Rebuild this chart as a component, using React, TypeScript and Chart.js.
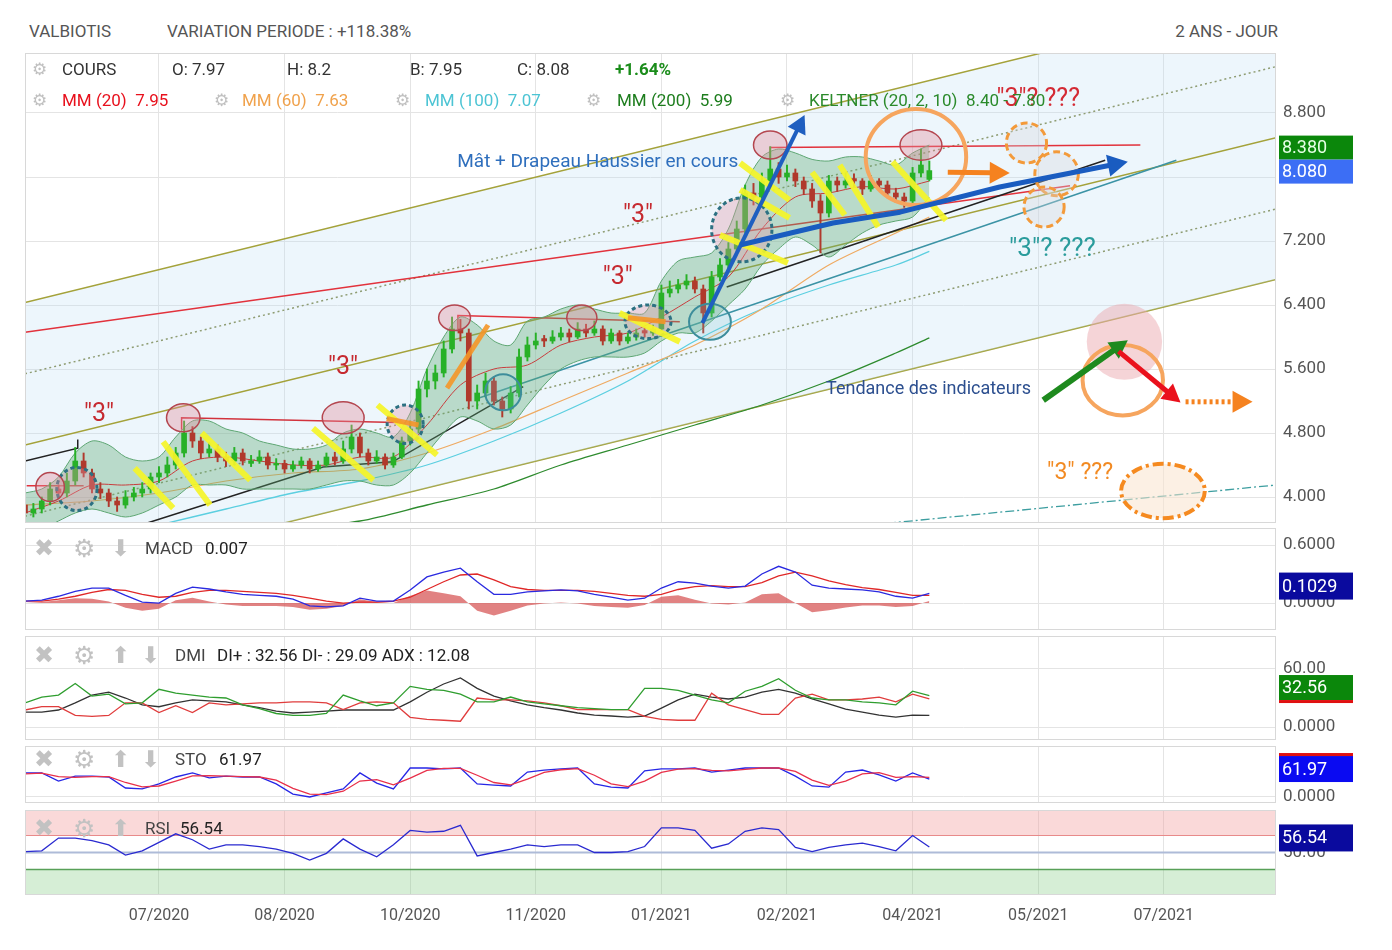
import React, { useEffect, useRef } from 'react';
import { Chart, registerables } from 'chart.js';

Chart.register(...registerables);

// ---------- axes ----------
const X_MAX = 149.4;
const X_TICKS = [16, 31, 46, 61, 76, 91, 106, 121, 136];
const X_LABELS = ['07/2020', '08/2020', '10/2020', '11/2020', '01/2021', '02/2021', '04/2021', '05/2021', '07/2021'];
const PRICE_TICKS = [4.0, 4.8, 5.6, 6.4, 7.2, 8.0, 8.8];
const MACD_TICKS = [0, 0.6];
const DMI_TICKS = [0, 60];
const STO_TICKS = [0];
const RSI_TICKS = [50];
const RSI_LEVELS = [70, 50, 30];

// ---------- candles (one per 2 sessions) ----------
const OPEN = [
  3.90, 3.80, 3.85, 3.95, 4.10, 4.05, 4.20, 4.45, 4.30, 4.10,
  4.05, 3.95, 3.90, 4.00, 4.05, 4.10, 4.25, 4.30, 4.40, 4.55,
  4.80, 4.70, 4.55, 4.60, 4.50, 4.45, 4.55, 4.42, 4.45, 4.50,
  4.40, 4.42, 4.35, 4.40, 4.45, 4.35, 4.40, 4.50, 4.45, 4.60,
  4.75, 4.55, 4.45, 4.50, 4.40, 4.50, 4.70, 4.85, 5.35, 5.45,
  5.55, 5.85, 6.10, 6.05, 5.20, 5.30, 5.45, 5.20, 5.10, 5.30,
  5.75, 5.90, 5.98, 5.95, 6.00, 6.05, 6.00, 6.10, 6.05, 6.10,
  5.95, 6.05, 5.95, 6.00, 6.08, 6.05, 6.10, 6.55, 6.60, 6.65,
  6.70, 6.60, 6.30, 6.75, 6.90, 7.10, 7.35, 7.80, 7.75, 7.95,
  8.10, 8.00, 8.05, 7.95, 7.85, 7.70, 7.55, 7.95, 7.90, 7.98,
  7.95, 7.85, 7.95, 7.90, 7.80, 7.75, 7.70, 8.05, 7.97,
];
const HIGH = [
  3.95, 3.92, 4.00, 4.18, 4.15, 4.30, 4.62, 4.55, 4.35, 4.18,
  4.10, 4.00, 4.08, 4.12, 4.18, 4.30, 4.38, 4.50, 4.62, 4.95,
  4.88, 4.75, 4.68, 4.65, 4.56, 4.62, 4.60, 4.52, 4.58, 4.55,
  4.48, 4.46, 4.45, 4.50, 4.48, 4.45, 4.55, 4.56, 4.70, 4.90,
  4.80, 4.60, 4.58, 4.54, 4.55, 4.75, 4.95, 5.45, 5.60, 5.65,
  5.95, 6.25, 6.22, 6.10, 5.40, 5.55, 5.50, 5.25, 5.38, 5.85,
  6.00, 6.05, 6.02, 6.08, 6.12, 6.10, 6.18, 6.16, 6.20, 6.14,
  6.10, 6.08, 6.05, 6.10, 6.12, 6.15, 6.65, 6.70, 6.72, 6.78,
  6.75, 6.65, 6.82, 6.98, 7.18, 7.45, 7.90, 7.92, 8.05, 8.38,
  8.18, 8.15, 8.10, 8.00, 7.92, 7.78, 8.02, 8.00, 8.05, 8.04,
  7.98, 8.02, 7.98, 7.95, 7.86, 7.80, 8.12, 8.35, 8.20,
];
const LOW = [
  3.72, 3.75, 3.80, 3.90, 3.98, 4.00, 4.15, 4.25, 4.05, 3.98,
  3.88, 3.82, 3.86, 3.95, 4.00, 4.05, 4.18, 4.25, 4.35, 4.50,
  4.62, 4.48, 4.50, 4.44, 4.38, 4.40, 4.40, 4.38, 4.42, 4.35,
  4.34, 4.30, 4.32, 4.36, 4.30, 4.32, 4.38, 4.40, 4.42, 4.55,
  4.50, 4.40, 4.42, 4.35, 4.37, 4.48, 4.65, 4.80, 5.25, 5.35,
  5.50, 5.80, 5.95, 5.10, 5.10, 5.25, 5.15, 5.00, 5.05, 5.25,
  5.70, 5.85, 5.88, 5.92, 5.96, 5.94, 5.98, 6.00, 6.02, 5.90,
  5.92, 5.90, 5.92, 5.96, 6.00, 6.02, 6.08, 6.50, 6.55, 6.60,
  6.55, 6.05, 6.25, 6.70, 6.85, 7.05, 7.30, 7.65, 7.70, 7.90,
  7.92, 7.95, 7.88, 7.78, 7.62, 7.05, 7.50, 7.82, 7.86, 7.88,
  7.78, 7.82, 7.84, 7.74, 7.68, 7.62, 7.66, 8.00, 7.95,
];
const CLOSE = [
  3.80, 3.85, 3.95, 4.10, 4.05, 4.20, 4.45, 4.30, 4.10, 4.05,
  3.95, 3.90, 4.00, 4.05, 4.10, 4.25, 4.30, 4.40, 4.55, 4.80,
  4.70, 4.55, 4.60, 4.50, 4.45, 4.55, 4.45, 4.45, 4.50, 4.40,
  4.42, 4.35, 4.40, 4.45, 4.35, 4.40, 4.50, 4.45, 4.60, 4.75,
  4.55, 4.45, 4.50, 4.40, 4.50, 4.70, 4.85, 5.35, 5.45, 5.55,
  5.85, 6.10, 6.05, 5.20, 5.30, 5.45, 5.20, 5.10, 5.30, 5.75,
  5.90, 5.95, 5.95, 6.00, 6.05, 6.00, 6.10, 6.05, 6.10, 5.95,
  6.05, 5.95, 6.00, 6.05, 6.05, 6.10, 6.55, 6.60, 6.65, 6.70,
  6.60, 6.30, 6.75, 6.90, 7.10, 7.35, 7.80, 7.75, 7.95, 8.10,
  8.00, 8.05, 7.95, 7.85, 7.70, 7.55, 7.95, 7.90, 7.95, 7.95,
  7.85, 7.95, 7.90, 7.80, 7.75, 7.70, 8.05, 8.15, 8.08,
];

// ---------- Keltner (every 2 candles) ----------
const KELT_UP = [
  4.05, 4.10, 4.25, 4.55, 4.70, 4.65, 4.50, 4.45, 4.50, 4.75,
  4.95, 4.95, 4.85, 4.80, 4.70, 4.65, 4.60, 4.60, 4.65, 4.80,
  4.85, 4.80, 4.75, 5.05, 5.60, 6.00, 6.25, 6.15, 5.95, 5.90,
  6.20, 6.25, 6.35, 6.40, 6.35, 6.30, 6.30, 6.30, 6.70, 6.95,
  7.00, 7.05, 7.35, 7.90, 8.25, 8.35, 8.30, 8.22, 8.20, 8.25,
  8.25, 8.20, 8.15, 8.30, 8.40,
];
const KELT_LOW = [
  3.55, 3.60, 3.70, 3.80, 3.85, 3.80, 3.75, 3.80, 3.90, 4.00,
  4.15, 4.15, 4.15, 4.10, 4.10, 4.10, 4.10, 4.10, 4.15, 4.20,
  4.20, 4.15, 4.15, 4.30, 4.55, 4.80, 5.00, 4.95, 4.85, 4.90,
  5.15, 5.40, 5.60, 5.70, 5.75, 5.75, 5.75, 5.80, 5.95, 6.05,
  6.05, 6.20, 6.40, 6.60, 6.90, 7.10, 7.25, 7.15, 7.00, 7.15,
  7.30, 7.40, 7.45, 7.50, 7.75,
];

// ---------- moving averages ----------
const MM20 = [
  3.80, 3.95, 4.15, 4.15, 4.20, 4.45, 4.50, 4.45, 4.40, 4.40,
  4.50, 4.50, 4.90, 5.40, 5.60, 5.65, 5.90, 6.00, 6.05, 6.25,
  6.50, 6.75, 7.35, 7.75, 7.80, 7.88, 7.85, 7.95,
];
const MM_X = [0, 8, 16, 24, 32, 40, 48, 56, 64, 72, 80, 88, 96, 104, 108];
const MM60 = [3.90, 3.95, 4.05, 4.20, 4.30, 4.35, 4.55, 4.85, 5.20, 5.55, 5.90, 6.35, 6.90, 7.30, 7.50];
const MM100 = [null, null, 3.65, 3.85, 4.05, 4.20, 4.40, 4.70, 5.05, 5.45, 5.95, 6.35, 6.65, 6.90, 7.07];
const MM200 = [null, null, null, null, 3.60, 3.70, 3.90, 4.10, 4.40, 4.65, 4.90, 5.15, 5.45, 5.80, 5.99];

// ---------- regression channel & drawn trend lines (session index, price) ----------
const CH_X = [0, 149.4];
const CH_TOP = [6.43, 10.27];
const CH_UPPER_DOT = [5.54, 9.38];
const CH_MID = [4.65, 8.49];
const CH_LOWER_DOT = [3.76, 7.60];
const CH_BOTTOM = [2.88, 6.72];
const DASHDOT_LINE = [[100.9, 3.65], [149.4, 4.15]];
const TEAL_LINE = [[54.3, 5.24], [137.5, 8.21]];
const RED_LONG = [[0, 6.06], [124.8, 7.89]];
const RED_TOP = [[89, 8.22], [89, 8.37], [133.2, 8.40]];
const RED_MID = [[51.7, 6.10], [51.7, 6.27], [78.2, 6.19]];
const RED_LEFT3 = [[18.7, 4.84], [18.7, 4.99], [44.5, 4.93]];
const RED_LEFT = [[0.2, 4.14], [7.0, 4.14]];
const BLACK_1 = [[0, 4.45], [6.3, 4.61], [6.3, 4.72]];
const BLACK_2 = [[14.6, 3.675], [35.6, 4.375], [43.9, 4.44], [59.5, 5.38]];
const BLACK_3 = [[83.8, 6.625], [129, 8.21]];

// ---------- indicators (every 4 sessions) ----------
const MACD = [
  0.02, 0.03, 0.07, 0.12, 0.155, 0.155, 0.08, 0.01, 0.0, 0.10,
  0.165, 0.145, 0.115, 0.09, 0.08, 0.07, 0.04, -0.03, -0.04, -0.03,
  0.05, 0.02, 0.02, 0.135, 0.27, 0.32, 0.36, 0.22, 0.09, 0.09,
  0.115, 0.125, 0.135, 0.125, 0.09, 0.06, 0.03, 0.05, 0.155, 0.22,
  0.205, 0.175, 0.155, 0.175, 0.30, 0.38, 0.32, 0.185, 0.155, 0.145,
  0.135, 0.115, 0.07, 0.05, 0.10,
];
const MACD_SIGNAL = [
  0.02, 0.02, 0.04, 0.07, 0.11, 0.14, 0.13, 0.09, 0.06, 0.07,
  0.11, 0.13, 0.13, 0.12, 0.11, 0.10, 0.08, 0.05, 0.02, 0.0,
  0.01, 0.01, 0.02, 0.06, 0.14, 0.22, 0.29, 0.30, 0.24, 0.17,
  0.14, 0.13, 0.13, 0.13, 0.12, 0.10, 0.08, 0.07, 0.09, 0.14,
  0.17, 0.18, 0.17, 0.17, 0.21, 0.28, 0.32, 0.28, 0.23, 0.19,
  0.16, 0.14, 0.11, 0.08, 0.08,
];
const MACD_HIST = [
  0.0, 0.01, 0.03, 0.05, 0.045, 0.015, -0.05, -0.08, -0.06, 0.03,
  0.055, 0.015, -0.015, -0.03, -0.03, -0.03, -0.04, -0.07, -0.06, -0.03,
  0.04, 0.01, 0.0, 0.075, 0.13, 0.10, 0.07, -0.08, -0.13, -0.08,
  -0.025, -0.005, 0.005, -0.005, -0.03, -0.04, -0.05, -0.02, 0.065, 0.08,
  0.035, -0.005, -0.015, 0.005, 0.09, 0.10, 0.0, -0.095, -0.075, -0.045,
  -0.025, -0.025, -0.04, -0.03, 0.02,
];
const DI_PLUS = [
  25, 31, 33, 45, 32, 34, 24, 25, 39, 35,
  33, 31, 30, 23, 19, 14, 12, 12, 14, 33,
  27, 22, 25, 42, 39, 38, 34, 26, 26, 31,
  26, 24, 22, 20, 19, 18, 18, 40, 40, 38,
  33, 28, 25, 37, 42, 50, 38, 30, 28, 28,
  26, 25, 23, 37, 32.56,
];
const DI_MINUS = [
  17.6, 21, 21, 12, 11, 12, 25, 25, 15, 22,
  15, 25, 23, 24, 25, 25, 26, 26, 25, 18,
  25, 26, 25, 10, 8, 7, 6, 30, 28, 28,
  27, 25, 22, 18, 18, 18, 18, 11, 8, 7,
  7, 35, 23, 18, 13, 13, 30, 34, 28, 28,
  29, 31, 26, 34, 29.09,
];
const ADX = [
  15.5, 15.5, 17.6, 25, 33, 36, 30, 23, 21, 25,
  28, 27, 26, 23, 20, 16.5, 14.5, 15.5, 16.5, 17.6,
  17.6, 17.6, 17.6, 26, 36, 44.5, 50.7, 40, 32, 27,
  23, 20, 17.6, 14.5, 12.4, 11.4, 10.3, 11.4, 19.6, 28,
  34, 31, 29, 31, 36, 39, 35, 29, 24, 18.6,
  15.5, 12.4, 10.3, 12.4, 12.08,
];
const STO_K = [
  83, 83, 55, 72, 72, 69, 31, 28, 45, 69,
  83, 66, 72, 69, 69, 45, 10, 0, 14, 28,
  83, 48, 28, 100, 100, 97, 100, 45, 41, 38,
  86, 93, 97, 100, 45, 34, 31, 90, 97, 97,
  100, 86, 93, 100, 100, 100, 72, 38, 34, 86,
  93, 76, 55, 83, 61.97,
];
const STO_D = [
  80, 82, 70, 68, 70, 70, 50, 35, 38, 55,
  73, 74, 72, 70, 69, 58, 30, 10, 8, 20,
  55, 60, 42, 65, 92, 99, 99, 75, 50, 42,
  62, 85, 94, 98, 75, 45, 36, 55, 85, 96,
  98, 92, 90, 95, 100, 100, 88, 58, 40, 55,
  80, 84, 68, 70, 68,
];
const RSI = [
  51, 52, 67, 67, 64, 59, 47, 52, 62, 72,
  65, 54, 59, 59, 57, 54, 49, 41, 49, 66,
  54, 45, 59, 76, 74, 75, 82, 46, 50, 54,
  59, 57, 59, 59, 50, 50, 51, 57, 79, 79,
  76, 55, 60, 75, 79, 77, 56, 51, 56, 59,
  61, 57, 52, 70, 56.54,
];

// ---------- hand-drawn annotations (session index, price) ----------
const YELLOW_STROKES = [
  [13.1, 4.36, 17.7, 3.86], [16.5, 4.69, 22.1, 3.90], [21.1, 4.80, 26.9, 4.21],
  [34.4, 4.86, 41.6, 4.21], [42.1, 5.15, 49.2, 4.525], [71.0, 6.30, 78.2, 5.94],
  [85.4, 8.175, 91.3, 7.71], [85.4, 7.84, 91.3, 7.49], [83.0, 7.275, 91.1, 6.925],
  [94.0, 8.06, 97.9, 7.525], [97.3, 8.15, 101.9, 7.375], [103.6, 8.19, 110.0, 7.46],
];
const ORANGE_STROKES = [[50.4, 5.36, 55.3, 6.15], [43.2, 4.98, 47.0, 4.90], [72.0, 6.24, 76.5, 6.19]];
const PINK_ELLIPSES = [
  [3.0, 4.125, 1.7, 0.18], [18.9, 4.99, 2.0, 0.175], [38.0, 4.99, 2.5, 0.2],
  [51.3, 6.24, 1.9, 0.16], [66.5, 6.24, 1.8, 0.16], [89.0, 8.40, 2.0, 0.175], [107.0, 8.40, 2.5, 0.19],
];
const TEAL_DASHED = [[6.2, 4.10, 2.4, 0.27], [45.4, 4.91, 2.15, 0.24], [74.4, 6.19, 2.75, 0.21], [85.6, 7.34, 3.6, 0.4]];
const TEAL_SOLID = [[57.1, 5.31, 2.15, 0.225], [81.8, 6.19, 2.5, 0.225]];
const ORANGE_DASHED = [[119.6, 8.425, 2.4, 0.25], [123.2, 8.04, 2.6, 0.275], [121.7, 7.625, 2.4, 0.25]];
const ORANGE_RINGS = [[106.4, 8.25, 6.0, 0.6], [131.1, 5.46, 4.8, 0.44]];
const PINK_BLOB = [131.3, 5.94, 4.5, 0.475];
const BOTTOM_ELLIPSE = [135.9, 4.075, 5.0, 0.34];
const BLUE_ARROW = [[80.9, 6.175], [93.1, 8.775]];
const BLUE_PATH = [[85.4, 7.15], [96.5, 7.425], [104.5, 7.56], [116.4, 7.875], [131.7, 8.19]];
const ORANGE_ARROW = [[110.2, 8.06], [117.6, 8.05]];
const GREEN_ARROW = [[121.6, 5.21], [131.7, 5.96]];
const RED_ARROW = [[130.6, 5.82], [138.0, 5.18]];
const ORANGE_DOTTED_ARROW = [[138.6, 5.19], [146.6, 5.19]];
const NOTES = [
  { s: 8.84, v: 5.025, text: '"3"', color: '#c62a30', size: 25 },
  { s: 37.97, v: 5.61, text: '"3"', color: '#c62a30', size: 25 },
  { s: 70.8, v: 6.74, text: '"3"', color: '#c62a30', size: 25 },
  { s: 73.2, v: 7.51, text: '"3"', color: '#c62a30', size: 25 },
  { s: 68.4, v: 8.19, text: 'Mât + Drapeau Haussier en cours', color: '#2f6fbd', size: 19 },
  { s: 122.7, v: 7.09, text: '"3"? ???', color: '#2a9c9c', size: 26 },
  { s: 107.9, v: 5.34, text: 'Tendance des indicateurs', color: '#2c4f8f', size: 18 },
  { s: 126.0, v: 4.30, text: '"3" ???', color: '#f28a22', size: 23 },
  { s: 121.0, v: 8.96, text: '"3"? ???', color: '#d42a34', size: 25 },
];

// ---------- helpers ----------
const FONT = 'Roboto, "Liberation Sans", Arial, sans-serif';
const OLIVE = '#a4a23a';
const pts = (xs: number[], ys: any[]) => xs.map((x, i) => ({ x, y: ys[i] }));
const pairs = (arr: number[][]) => arr.map(([x, y]) => ({ x, y }));
const step2 = (ys: number[]) => ys.map((y, i) => ({ x: i * 2, y }));
const step4 = (ys: number[]) => ys.map((y, i) => ({ x: i * 4, y }));
const line = (data: any[], color: string, width: number, extra: any = {}) => ({
  type: 'line', data, borderColor: color, borderWidth: width, pointRadius: 0, fill: false, tension: 0, ...extra,
});

function baseOptions(yMin: number, yMax: number, yTicks: number[], fmt: (v: number) => string, showX: boolean) {
  return {
    animation: false,
    responsive: true,
    maintainAspectRatio: false,
    events: [],
    layout: { padding: { left: 25, right: 0, top: 0, bottom: 0 } },
    plugins: { legend: { display: false }, tooltip: { enabled: false } },
    scales: {
      x: {
        type: 'linear', min: 0, max: X_MAX, offset: false,
        afterBuildTicks: (s: any) => { s.ticks = X_TICKS.map((v) => ({ value: v })); },
        afterFit: (s: any) => {
          s.height = showX ? 40 : 0;
          s.paddingLeft = 0; s.paddingRight = 0; s.paddingTop = 0; s.paddingBottom = 0;
        },
        grid: { color: '#e4e4e4', drawTicks: false, offset: false },
        border: { display: false },
        ticks: {
          display: showX, autoSkip: false, maxRotation: 0, padding: 11, color: '#555',
          font: { family: FONT, size: 16 },
          callback: (_v: any, i: number) => X_LABELS[i],
        },
      },
      y: {
        position: 'right', min: yMin, max: yMax,
        afterBuildTicks: (s: any) => { s.ticks = yTicks.map((v) => ({ value: v })); },
        afterFit: (s: any) => {
          s.width = 116;
          s.paddingTop = 0; s.paddingBottom = 0; s.paddingLeft = 0; s.paddingRight = 0;
        },
        grid: { color: '#e4e4e4', drawTicks: false },
        border: { display: false },
        ticks: { padding: 7, color: '#555', font: { family: FONT, size: 17 }, callback: (v: any) => fmt(Number(v)) },
      },
    },
  };
}

const borderPlugin = {
  id: 'panelBorder',
  afterDraw(chart: any) {
    const { ctx, chartArea: a } = chart;
    ctx.save();
    ctx.strokeStyle = '#d8d8d8';
    ctx.lineWidth = 1;
    ctx.strokeRect(a.left + 0.5, a.top + 0.5, a.width - 1, a.height - 1);
    ctx.restore();
  },
};

function badgePlugin(items: any[]) {
  return {
    id: 'badges',
    afterDraw(chart: any) {
      const { ctx, chartArea, scales } = chart;
      ctx.save();
      items.forEach((b) => {
        const cy = scales.y.getPixelForValue(b.value) + b.dy;
        const x0 = chartArea.right + 3;
        const w = 74;
        ctx.fillStyle = b.bg;
        ctx.fillRect(x0, cy - b.h / 2, w, b.h);
        if (b.top) { ctx.fillStyle = b.top; ctx.fillRect(x0, cy - b.h / 2 - 3, w, 3); }
        if (b.bottom) { ctx.fillStyle = b.bottom; ctx.fillRect(x0, cy + b.h / 2, w, 3); }
        ctx.fillStyle = b.fg;
        ctx.font = `18px ${FONT}`;
        ctx.textAlign = 'left';
        ctx.textBaseline = 'middle';
        ctx.fillText(b.text, x0 + 3, cy + 1);
      });
      ctx.restore();
    },
  };
}

const annotationPlugin = {
  id: 'annotations',
  afterDatasetsDraw(chart: any) {
    const { ctx, chartArea: a, scales } = chart;
    const X = (s: number) => scales.x.getPixelForValue(s);
    const Y = (v: number) => scales.y.getPixelForValue(v);
    const RX = (s: number, r: number) => Math.abs(X(s + r) - X(s));
    const RY = (v: number, r: number) => Math.abs(Y(v + r) - Y(v));
    ctx.save();
    ctx.beginPath();
    ctx.rect(a.left, a.top, a.width, a.height);
    ctx.clip();
    ctx.lineCap = 'butt';

    const ellipse = (e: number[], fill: string | null, stroke: string | null, width: number, dash: number[] = []) => {
      ctx.beginPath();
      ctx.ellipse(X(e[0]), Y(e[1]), RX(e[0], e[2]), RY(e[1], e[3]), 0, 0, Math.PI * 2);
      if (fill) { ctx.fillStyle = fill; ctx.fill(); }
      if (stroke) { ctx.setLineDash(dash); ctx.strokeStyle = stroke; ctx.lineWidth = width; ctx.stroke(); ctx.setLineDash([]); }
    };
    const seg = (s: number[], color: string, width: number) => {
      ctx.beginPath();
      ctx.moveTo(X(s[0]), Y(s[1]));
      ctx.lineTo(X(s[2]), Y(s[3]));
      ctx.strokeStyle = color; ctx.lineWidth = width; ctx.stroke();
    };
    const arrow = (path: number[][], color: string, width: number, head: number, dash: number[] = []) => {
      const P = path.map(([s, v]) => [X(s), Y(v)]);
      const [tx, ty] = P[P.length - 1];
      const [px, py] = P[P.length - 2];
      const ang = Math.atan2(ty - py, tx - px);
      const bx = tx - Math.cos(ang) * head * 0.9;
      const by = ty - Math.sin(ang) * head * 0.9;
      ctx.beginPath();
      ctx.moveTo(P[0][0], P[0][1]);
      for (let i = 1; i < P.length - 1; i++) ctx.lineTo(P[i][0], P[i][1]);
      ctx.lineTo(bx, by);
      ctx.setLineDash(dash);
      ctx.strokeStyle = color; ctx.lineWidth = width; ctx.lineJoin = 'round'; ctx.stroke();
      ctx.setLineDash([]);
      ctx.beginPath();
      ctx.moveTo(tx, ty);
      ctx.lineTo(tx - Math.cos(ang) * head + Math.sin(ang) * head * 0.55, ty - Math.sin(ang) * head - Math.cos(ang) * head * 0.55);
      ctx.lineTo(tx - Math.cos(ang) * head - Math.sin(ang) * head * 0.55, ty - Math.sin(ang) * head + Math.cos(ang) * head * 0.55);
      ctx.closePath();
      ctx.fillStyle = color; ctx.fill();
    };

    ellipse(BOTTOM_ELLIPSE, 'rgba(250,228,205,0.55)', '#f58a20', 4, [11, 4, 3, 4]);
    ellipse(PINK_BLOB, 'rgba(236,170,176,0.5)', null, 0);
    ORANGE_DASHED.forEach((e) => ellipse(e, 'rgba(215,215,222,0.35)', '#f39a3a', 3, [7, 4]));
    TEAL_SOLID.forEach((e) => ellipse(e, 'rgba(120,190,200,0.22)', '#3d8d9b', 2));
    TEAL_DASHED.forEach((e) => ellipse(e, 'rgba(226,150,165,0.35)', '#2c7182', 3, [4, 3]));
    PINK_ELLIPSES.forEach((e) => ellipse(e, 'rgba(226,140,155,0.38)', '#b4464f', 1.5));

    YELLOW_STROKES.forEach((s) => seg(s, 'rgba(245,245,40,0.92)', 6));
    ORANGE_STROKES.forEach((s) => seg(s, 'rgba(245,150,40,0.9)', 5));

    ORANGE_RINGS.forEach((e) => ellipse(e, null, '#f6a55e', 4));

    arrow(BLUE_ARROW, '#1f5fc0', 4, 18);
    arrow(BLUE_PATH, '#1a5cc0', 5, 20);
    arrow(ORANGE_ARROW, '#f5821f', 5, 20);
    arrow(GREEN_ARROW, '#1e8a1e', 6, 18);
    arrow(RED_ARROW, '#ea111c', 5, 18);
    arrow(ORANGE_DOTTED_ARROW, '#f5821f', 5, 20, [3, 3]);

    ctx.textAlign = 'center';
    ctx.textBaseline = 'middle';
    NOTES.forEach((n) => {
      ctx.font = `${n.size}px ${FONT}`;
      ctx.fillStyle = n.color;
      ctx.fillText(n.text, X(n.s), Y(n.v));
    });
    ctx.restore();
  },
};

function mainConfig() {
  const bull = '#27b127';
  const bear = '#b0392c';
  const colors = CLOSE.map((c, i) => (c >= OPEN[i] ? bull : bear));
  const datasets: any[] = [
    line(pts(CH_X, CH_BOTTOM), OLIVE, 1.5),
    line(pts(CH_X, CH_TOP), OLIVE, 1.5, { fill: 0, backgroundColor: 'rgba(190,220,245,0.27)' }),
    line(pts(CH_X, CH_UPPER_DOT), '#8e9c72', 1.5, { borderDash: [2, 3] }),
    line(pts(CH_X, CH_MID), OLIVE, 1.5),
    line(pts(CH_X, CH_LOWER_DOT), '#8e9c72', 1.5, { borderDash: [2, 3] }),
    line(pairs(DASHDOT_LINE), '#3d9ea0', 1.3, { borderDash: [9, 3, 2, 3] }),
    line(pts(MM_X, MM200), '#2e8b2e', 1.3, { tension: 0.3 }),
    line(pts(MM_X, MM100), '#5ccfe0', 1.3, { tension: 0.3 }),
    line(pts(MM_X, MM60), '#efaa62', 1.2, { tension: 0.3 }),
    line(pairs(TEAL_LINE), '#3b93a5', 1.5),
    line(pairs(RED_LONG), '#e2323c', 1.5),
    line(pairs(RED_TOP), '#e2323c', 1.5),
    line(pairs(RED_MID), '#e2323c', 1.5),
    line(pairs(RED_LEFT3), '#d2323c', 1.5),
    line(pairs(RED_LEFT), '#e2323c', 1.5),
    line(pairs(BLACK_1), '#222', 1.5),
    line(pairs(BLACK_2), '#222', 1.5),
    line(pairs(BLACK_3), '#222', 1.5),
    line(step2(KELT_LOW), '#5ea673', 1, { tension: 0.3 }),
    line(step2(KELT_UP), '#5ea673', 1, { tension: 0.3, fill: 18, backgroundColor: 'rgba(95,170,115,0.36)' }),
    line(step4(MM20), '#c83c3c', 1, { tension: 0.3 }),
    {
      type: 'bar', data: HIGH.map((h, i) => ({ x: i, y: [LOW[i], h] })),
      backgroundColor: colors, barThickness: 1.3, grouped: false,
    },
    {
      type: 'bar', data: OPEN.map((o, i) => ({ x: i, y: [o, CLOSE[i]] })),
      backgroundColor: colors, barThickness: 5, grouped: false, minBarLength: 1.5,
    },
  ];
  datasets.forEach((d, i) => { d.order = 100 - i; });
  return {
    type: 'line',
    data: { datasets },
    options: baseOptions(3.675, 9.55, PRICE_TICKS, (v) => v.toFixed(3), false),
    plugins: [
      annotationPlugin,
      borderPlugin,
      badgePlugin([
        { value: 8.38, text: '8.380', bg: '#0b870b', fg: '#e6ffe6', dy: 1, h: 24 },
        { value: 8.08, text: '8.080', bg: '#3c6ef5', fg: '#ffffff', dy: 1, h: 24 },
      ]),
    ],
  };
}

function panelConfig(datasets: any[], yMin: number, yMax: number, ticks: number[], fmt: (v: number) => string, badges: any[], showX = false) {
  datasets.forEach((d, i) => { d.order = 100 - i; });
  return {
    type: 'line',
    data: { datasets },
    options: baseOptions(yMin, yMax, ticks, fmt, showX),
    plugins: [borderPlugin, badgePlugin(badges)],
  };
}

const Txt = ({ x, right, y, children, color = '#333', size = 17, bold = false, family = FONT }: any) => (
  <span
    style={{
      position: 'absolute', left: x, right, top: y, transform: 'translateY(-50%)', whiteSpace: 'pre',
      lineHeight: 1, fontSize: size, fontFamily: family, color, fontWeight: bold ? 700 : 400, zIndex: 5,
    }}
  >
    {children}
  </span>
);
const ICON_FONT = '"DejaVu Sans", sans-serif';
const ICON_GREY = '#c2c2c2';
const Gear = ({ x, y }: any) => <Txt x={x} y={y} color="#c0c0c0" size={17} family={ICON_FONT}>⚙</Txt>;
const PanelIcons = ({ y, up, down }: any) => (
  <>
    <Txt x={34} y={y} color={ICON_GREY} size={24} family={ICON_FONT}>✖</Txt>
    <Txt x={73} y={y} color={ICON_GREY} size={25} family={ICON_FONT}>⚙</Txt>
    {up ? <Txt x={111} y={y} color={ICON_GREY} size={23} family={ICON_FONT}>⬆</Txt> : null}
    {down ? <Txt x={up ? 141 : 111} y={y} color={ICON_GREY} size={23} family={ICON_FONT}>⬇</Txt> : null}
  </>
);

export default function App() {
  const mainRef = useRef<HTMLCanvasElement>(null);
  const macdRef = useRef<HTMLCanvasElement>(null);
  const dmiRef = useRef<HTMLCanvasElement>(null);
  const stoRef = useRef<HTMLCanvasElement>(null);
  const rsiRef = useRef<HTMLCanvasElement>(null);

  useEffect(() => {
    document.body.style.margin = '0';
    const charts: Chart[] = [];
    charts.push(new Chart(mainRef.current as any, mainConfig() as any));
    charts.push(new Chart(macdRef.current as any, panelConfig([
      line(step2(MACD_HIST), 'rgba(0,0,0,0)', 0, { fill: 'origin', backgroundColor: 'rgba(214,82,82,0.72)' }),
      line(step2(MACD_SIGNAL), '#e02828', 1.3),
      line(step2(MACD), '#2a2ae0', 1.3),
    ], -0.279, 0.776, MACD_TICKS, (v) => v.toFixed(4),
    [{ value: 0.1029, text: '0.1029', bg: '#0a0a9e', fg: '#fff', dy: -7, h: 27 }]) as any));
    charts.push(new Chart(dmiRef.current as any, panelConfig([
      line(step2(ADX), '#333333', 1.3),
      line(step2(DI_MINUS), '#e03c3c', 1.3),
      line(step2(DI_PLUS), '#2f9e2f', 1.3),
    ], -13.4, 94.1, DMI_TICKS, (v) => (v >= 10 ? v.toFixed(2) : v.toFixed(4)),
    [{ value: 32.56, text: '32.56', bg: '#0b870b', fg: '#fff', dy: -8, h: 25, bottom: '#e01010' }]) as any));
    charts.push(new Chart(stoRef.current as any, panelConfig([
      line(step2(STO_K), '#2626e6', 1.3),
      line(step2(STO_D), '#e8304a', 1.3),
    ], -20.7, 175.9, STO_TICKS, (v) => v.toFixed(4),
    [{ value: 61.97, text: '61.97', bg: '#0a0af2', fg: '#fff', dy: -10, h: 26, top: '#e01010' }]) as any));
    charts.push(new Chart(rsiRef.current as any, panelConfig([
      line(pts(CH_X, [RSI_LEVELS[0], RSI_LEVELS[0]]), '#e88a8a', 1.2, { fill: 'end', backgroundColor: 'rgba(240,150,150,0.36)' }),
      line(pts(CH_X, [RSI_LEVELS[1], RSI_LEVELS[1]]), '#aebbd8', 2),
      line(pts(CH_X, [RSI_LEVELS[2], RSI_LEVELS[2]]), '#58a058', 1.5, { fill: 'start', backgroundColor: 'rgba(120,200,120,0.3)' }),
      line(step2(RSI), '#2a2ad0', 1.3),
    ], 0, 100, RSI_TICKS, (v) => v.toFixed(2),
    [{ value: 56.54, text: '56.54', bg: '#0a0a9e', fg: '#fff', dy: -9, h: 27 }], true) as any));
    return () => charts.forEach((c) => c.destroy());
  }, []);

  const box = (top: number, height: number, ref: any) => (
    <div style={{ position: 'absolute', left: 0, top, width: 1392, height }}>
      <canvas ref={ref} />
    </div>
  );

  return (
    <div style={{ position: 'relative', width: 1392, height: 950, background: '#fff', overflow: 'hidden', fontFamily: FONT }}>
      <Txt x={29} y={31} color="#555">VALBIOTIS</Txt>
      <Txt x={167} y={31} color="#555">VARIATION PERIODE : +118.38%</Txt>
      <Txt right={114} y={31} color="#555">2 ANS - JOUR</Txt>

      {box(53, 470, mainRef)}
      {box(528, 102, macdRef)}
      {box(636, 104, dmiRef)}
      {box(746, 57, stoRef)}
      {box(810, 125, rsiRef)}

      <Gear x={32} y={69} />
      <Txt x={62} y={69}>COURS</Txt>
      <Txt x={172} y={69}>O: 7.97</Txt>
      <Txt x={287} y={69}>H: 8.2</Txt>
      <Txt x={410} y={69}>B: 7.95</Txt>
      <Txt x={517} y={69}>C: 8.08</Txt>
      <Txt x={615} y={69} color="#1a8c1a" bold>+1.64%</Txt>

      <Gear x={32} y={100} />
      <Txt x={62} y={100} color="#e8101c">{'MM (20)  7.95'}</Txt>
      <Gear x={214} y={100} />
      <Txt x={242} y={100} color="#f0a24c">{'MM (60)  7.63'}</Txt>
      <Gear x={395} y={100} />
      <Txt x={425} y={100} color="#4cc4d4">{'MM (100)  7.07'}</Txt>
      <Gear x={586} y={100} />
      <Txt x={617} y={100} color="#1d7d1d">{'MM (200)  5.99'}</Txt>
      <Gear x={780} y={100} />
      <Txt x={809} y={100} color="#2b8a2b">{'KELTNER (20, 2, 10)  8.40 - 7.80'}</Txt>

      <PanelIcons y={548} down />
      <Txt x={145} y={548} color="#444">MACD</Txt>
      <Txt x={205} y={548} color="#222">0.007</Txt>

      <PanelIcons y={655} up down />
      <Txt x={175} y={655} color="#444">DMI</Txt>
      <Txt x={217} y={655} color="#222">DI+ : 32.56 DI- : 29.09 ADX : 12.08</Txt>

      <PanelIcons y={759} up down />
      <Txt x={175} y={759} color="#444">STO</Txt>
      <Txt x={219} y={759} color="#222">61.97</Txt>

      <PanelIcons y={828} up />
      <Txt x={145} y={828} color="#444">RSI</Txt>
      <Txt x={180} y={828} color="#222">56.54</Txt>
    </div>
  );
}
